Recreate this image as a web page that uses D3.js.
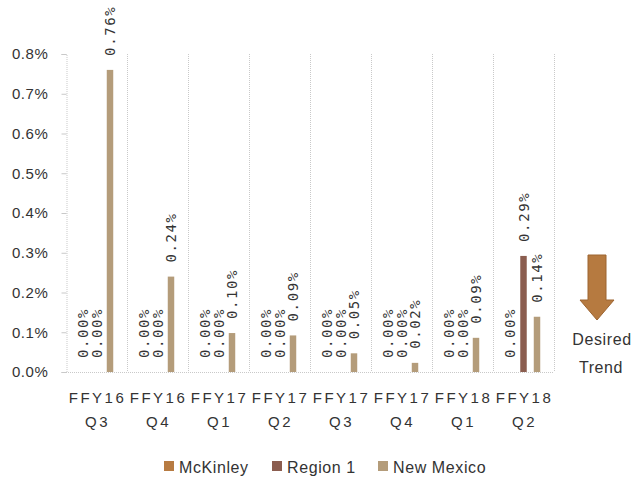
<!DOCTYPE html>
<html><head><meta charset="utf-8">
<script src="https://cdn.jsdelivr.net/npm/d3@7"></script>
<style>
html,body{margin:0;padding:0;background:#fff;}
svg{display:block;}
</style></head>
<body>
<svg id="chart" width="632" height="481"></svg>
<script>
const categories = [["FFY16","Q3"],["FFY16","Q4"],["FFY17","Q1"],["FFY17","Q2"],["FFY17","Q3"],["FFY17","Q4"],["FFY18","Q1"],["FFY18","Q2"]];
const seriesNames = ["McKinley","Region 1","New Mexico"];
const mckinley = [0, 0, 0, 0, 0, 0, 0, 0];
const region1  = [0, 0, 0, 0, 0, 0, 0, 0.292];
const newMexico = [0.76, 0.24, 0.098, 0.092, 0.047, 0.023, 0.086, 0.139];
const yTicks = [0, 0.1, 0.2, 0.3, 0.4, 0.5, 0.6, 0.7, 0.8];
const colors = ["#b77b42", "#8b5d4f", "#b49c7a"];

(function () {
const svg = d3.select("#chart");
const pLeft = 66, pRight = 554, pTop = 54, pBottom = 372;

const x = d3.scaleBand().domain(d3.range(categories.length)).range([pLeft, pRight]).padding(0);
const xs = d3.scaleBand().domain(d3.range(3)).range([10.25, 50.75]).paddingInner(0.52).paddingOuter(0.26);
const y = d3.scaleLinear().domain([0, 0.8]).range([pBottom, pTop]);

// vertical gridlines at category boundaries
const bounds = d3.range(1, categories.length).map(i => x(i)).concat([pRight]);
svg.append("g").selectAll("line").data(bounds).join("line")
  .attr("x1", d => d + 0.5).attr("x2", d => d + 0.5).attr("y1", pTop).attr("y2", pBottom)
  .attr("stroke", "#c9c9c9").attr("stroke-dasharray", "1,1").attr("stroke-width", 1);

// y axis
const yAxis = d3.axisLeft(y).tickValues(yTicks).tickFormat(d => d.toFixed(1) + "%").tickSize(5).tickPadding(13);
const ya = svg.append("g").attr("transform", `translate(${pLeft + 0.5},0)`).call(yAxis);
ya.select(".domain").attr("stroke", "#c9c9c9").attr("stroke-dasharray", "1,1");
ya.selectAll(".tick line").attr("stroke", "#c9c9c9");
ya.selectAll(".tick text").attr("font-family", "Liberation Sans, Arial, sans-serif").attr("font-size", 15)
  .attr("letter-spacing", "0.6").attr("fill", "#333");

// bottom axis line
svg.append("line").attr("x1", pLeft).attr("x2", pRight).attr("y1", pBottom + 0.5).attr("y2", pBottom + 0.5)
  .attr("stroke", "#c9c9c9").attr("stroke-dasharray", "1,1");

// bars
const data = [];
categories.forEach((c, i) => {
  [mckinley, region1, newMexico].forEach((arr, s) => {
    data.push({ i, s, v: arr[i] });
  });
});
svg.append("g").selectAll("rect").data(data).join("rect")
  .attr("x", d => x(d.i) + xs(d.s))
  .attr("width", xs.bandwidth())
  .attr("y", d => y(d.v))
  .attr("height", d => pBottom - y(d.v))
  .attr("fill", d => colors[d.s]);

// labels
svg.append("g").selectAll("text").data(data).join("text")
  .attr("transform", d => `translate(${x(d.i) + xs(d.s) + xs.bandwidth() / 2},${y(d.v) - 14}) rotate(-90)`)
  .attr("text-anchor", "start")
  .attr("dy", "0.36em")
  .attr("font-family", "DejaVu Sans Mono, monospace")
  .attr("font-size", 14)
  .attr("letter-spacing", "1.6")
  .attr("fill", "#333")
  .text(d => d.v.toFixed(2) + "%");

// x labels
const xl = svg.append("g").selectAll("text").data(categories).join("text")
  .attr("text-anchor", "middle")
  .attr("font-family", "Liberation Sans, Arial, sans-serif")
  .attr("font-size", 15)
  .attr("letter-spacing", "2.5")
  .attr("fill", "#333");
xl.append("tspan").attr("x", (d, i) => x(i) + x.bandwidth() / 2 + 1).attr("y", 403).text(d => d[0]);
xl.append("tspan").attr("x", (d, i) => x(i) + x.bandwidth() / 2 + 1).attr("y", 427).text(d => d[1]);

// legend
const legX = [164, 272, 378];
const lg = svg.append("g").selectAll("g").data(seriesNames).join("g")
  .attr("transform", (d, i) => `translate(${legX[i]},461)`);
lg.append("rect").attr("width", 10).attr("height", 10).attr("fill", (d, i) => colors[i]);
lg.append("text").attr("x", 15).attr("y", 12)
  .attr("font-family", "Liberation Sans, Arial, sans-serif").attr("font-size", 16)
  .attr("letter-spacing", "0.6").attr("fill", "#333").text(d => d);

// desired trend arrow
const arrowPts = [[588,255],[606,255],[606,300],[614,300],[597,320],[580,300],[588,300]];
svg.append("path").attr("d", d3.line()(arrowPts) + "Z")
  .attr("fill", "#b67a40").attr("stroke", "#9c6431").attr("stroke-width", 1);
svg.append("text").attr("x", 602).attr("y", 345).attr("text-anchor", "middle")
  .attr("font-family", "Liberation Sans, Arial, sans-serif").attr("font-size", 16).attr("letter-spacing", "0.6")
  .attr("fill", "#333").text("Desired");
svg.append("text").attr("x", 601).attr("y", 373).attr("text-anchor", "middle")
  .attr("font-family", "Liberation Sans, Arial, sans-serif").attr("font-size", 16).attr("letter-spacing", "0.6")
  .attr("fill", "#333").text("Trend");
})();
</script>
</body></html>
